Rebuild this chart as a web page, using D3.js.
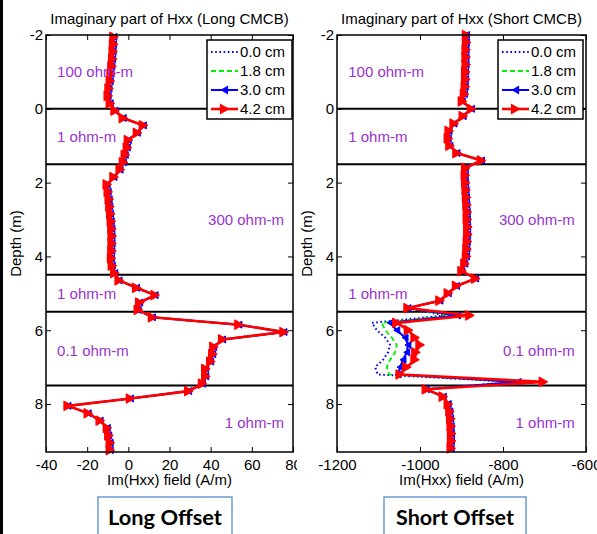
<!DOCTYPE html>
<html>
<head>
<meta charset="utf-8">
<script src="https://cdn.jsdelivr.net/npm/d3@7"></script>
<style>
  body { margin: 0; background: #fff; }
  svg { display: block; }
  text { font-family: Arial, "Liberation Sans", sans-serif; }
</style>
</head>
<body>
<svg id="chart" width="597" height="534"></svg>
<script>
// ---- data ---------------------------------------------------------------
const offsets = ["0.0 cm", "1.8 cm", "3.0 cm", "4.2 cm"];
const depthTicks = [-2, 0, 2, 4, 6, 8];
const longTicks = [-40, -20, 0, 20, 40, 60, 80];
const shortTicks = [-1200, -1000, -800, -600];
const layerTops = [0, 1.5, 4.5, 5.5, 7.5];

// Long CMCB: sample depths (m) and Im(Hxx) (A/m); the four offsets overlap
const depthLong = [-1.95,-1.75,-1.55,-1.35,-1.15,-0.95,-0.75,-0.55,-0.35,-0.15,
  0.05,0.25,0.45,0.65,0.85,1.05,1.25,1.45,1.65,1.85,
  2.05,2.25,2.45,2.65,2.85,3.05,3.25,3.45,3.65,3.85,
  4.05,4.25,4.45,4.65,4.85,5.05,5.25,5.45,5.65,5.85,
  6.05,6.25,6.45,6.65,6.85,7.05,7.25,7.45,7.65,7.85,
  8.05,8.25,8.45,8.65,8.85,9.05,9.25];
const imLong = [-7.0,-7.2,-7.4,-7.6,-8.0,-8.4,-8.8,-9.4,-9.8,-8.8,
  -6.5,-2.5,7.3,4.4,0.0,-0.5,-1.5,-2.4,-4.0,-7.0,
  -10.3,-9.8,-9.3,-9.0,-8.6,-8.3,-8.0,-7.9,-7.9,-8.0,
  -8.2,-7.8,-6.6,-4.5,4.0,13.0,5.5,4.8,11.7,53.7,
  75.6,45.8,41.5,41.0,40.0,37.6,37.6,36.0,29.3,1.0,
  -29.3,-19.5,-13.7,-10.2,-9.5,-8.8,-8.8];

// Short CMCB: sample depths (m) and Im(Hxx) (A/m) for each offset
const depthShort = [-2.0,-1.8,-1.6,-1.4,-1.2,-1.0,-0.8,-0.6,-0.4,-0.2,
  0.0,0.2,0.4,0.6,0.8,1.0,1.2,1.4,1.6,1.8,
  2.0,2.2,2.4,2.6,2.8,3.0,3.2,3.4,3.6,3.8,
  4.0,4.2,4.4,4.6,4.8,5.0,5.2,5.4,5.6,5.8,
  6.0,6.2,6.4,6.6,6.8,7.0,7.2,7.4,7.6,7.8,
  8.0,8.2,8.4,8.6,8.8,9.0,9.2];
const imShort00 = [-888,-888,-889,-889,-889,-890,-890,-891,-893,-898,
  -876,-896,-918,-930,-932,-928,-911,-852,-890,-891,
  -890,-889,-888,-887,-886,-886,-885,-885,-886,-887,
  -888,-892,-899,-866,-912,-932,-952,-1029,-940,-1116,
  -1104,-1084,-1072,-1077,-1089,-1108,-1102,-770,-985,-944,
  -932,-928,-926,-925,-924,-924,-925];
const imShort18 = [-888,-888,-889,-889,-889,-890,-890,-891,-893,-898,
  -876,-896,-918,-930,-932,-928,-911,-852,-890,-891,
  -890,-889,-888,-887,-886,-886,-885,-885,-886,-887,
  -888,-892,-899,-866,-912,-932,-952,-1029,-925,-1092,
  -1084,-1068,-1056,-1060,-1072,-1080,-1074,-762,-985,-944,
  -932,-928,-926,-925,-924,-924,-925];
const imShort30 = [-888,-888,-889,-889,-889,-890,-890,-891,-893,-898,
  -876,-896,-918,-930,-932,-928,-911,-852,-890,-891,
  -890,-889,-888,-887,-886,-886,-885,-885,-886,-887,
  -888,-892,-899,-866,-912,-932,-952,-1029,-910,-1072,
  -1056,-1036,-1029,-1032,-1041,-1048,-1053,-764,-985,-944,
  -932,-928,-926,-925,-924,-924,-925];
const imShort42 = [-888,-888,-889,-889,-889,-890,-890,-891,-893,-898,
  -876,-896,-918,-930,-932,-928,-911,-852,-890,-891,
  -890,-889,-888,-887,-886,-886,-885,-885,-886,-887,
  -888,-892,-899,-866,-912,-932,-952,-1029,-880,-1056,
  -1028,-1012,-1000,-1010,-1012,-1032,-1048,-703,-985,-944,
  -932,-928,-926,-925,-924,-924,-925];

// resistivity labels: text, x value, depth, anchor
const longLayerLabels = [
  ["100 ohm-m", -34.6, -1.0, "start"], ["1 ohm-m", -34.6, 0.75, "start"],
  ["300 ohm-m", 75.6, 3.0, "end"], ["1 ohm-m", -34.6, 5.02, "start"],
  ["0.1 ohm-m", -34.6, 6.55, "start"], ["1 ohm-m", 75.6, 8.5, "end"]];
const shortLayerLabels = [
  ["100 ohm-m", -1173, -1.0, "start"], ["1 ohm-m", -1173, 0.75, "start"],
  ["300 ohm-m", -627, 3.0, "end"], ["1 ohm-m", -1173, 5.02, "start"],
  ["0.1 ohm-m", -627, 6.55, "end"], ["1 ohm-m", -627, 8.5, "end"]];

// ---- styles -------------------------------------------------------------
const seriesStyle = [
  { color: "#0000ff", width: 2,   dash: "1.6,2.6", marker: null },
  { color: "#00ee00", width: 1.8, dash: "5,3",     marker: null },
  { color: "#0000ff", width: 2,   dash: null,      marker: "left" },
  { color: "#ff0000", width: 2.6, dash: null,      marker: "right" }
];

const svg = d3.select("#chart");
const FS = 15;
const yDomain = [-2, 9.3];
const plotTop = 35, plotBottom = 452;

// black strip on the far left edge
svg.append("rect").attr("x", 0).attr("y", 0).attr("width", 3).attr("height", 534).attr("fill", "#000");

function trianglePath(dir, w, h) {
  if (dir === "left") return `M${-w/2},0L${w/2},${-h/2}L${w/2},${h/2}Z`;
  return `M${w/2},0L${-w/2},${-h/2}L${-w/2},${h/2}Z`;
}

function drawPanel(cfg, idx) {
  const clipId = "clip" + idx;
  svg.append("clipPath").attr("id", clipId)
    .append("rect").attr("x", cfg.clip[0]).attr("y", 0)
    .attr("width", cfg.clip[1] - cfg.clip[0]).attr("height", 534);
  const g = svg.append("g").attr("clip-path", `url(#${clipId})`);

  const x = d3.scaleLinear().domain(cfg.xDomain).range([cfg.left, cfg.right]);
  const y = d3.scaleLinear().domain(yDomain).range([plotTop, plotBottom]);

  // title
  g.append("text").attr("x", (cfg.left + cfg.right) / 2).attr("y", 24)
    .attr("text-anchor", "middle").attr("font-size", FS).text(cfg.title);

  // layer boundaries
  g.selectAll(".layer").data(layerTops).join("line")
    .attr("x1", cfg.left).attr("x2", cfg.right)
    .attr("y1", d => y(d)).attr("y2", d => y(d))
    .attr("stroke", "#000").attr("stroke-width", 2);

  // curves
  const line = d3.line().x(d => x(d[1])).y(d => y(d[0]));
  cfg.series.forEach((vals, i) => {
    const st = seriesStyle[i];
    const pts = cfg.depth.map((dp, k) => [dp, vals[k]]);
    g.append("path").datum(pts).attr("d", line)
      .attr("fill", "none").attr("stroke", st.color)
      .attr("stroke-width", st.width).attr("stroke-linejoin", "round")
      .attr("stroke-dasharray", st.dash);
    if (st.marker) {
      const w = st.marker === "left" ? 6 : 8, h = st.marker === "left" ? 7 : 9;
      g.append("g").selectAll("path").data(pts).join("path")
        .attr("transform", d => `translate(${x(d[1])},${y(d[0])})`)
        .attr("d", trianglePath(st.marker, w, h))
        .attr("fill", st.color).attr("stroke", st.color)
        .attr("stroke-width", st.marker === "left" ? 1 : 1.4)
        .attr("stroke-linejoin", "round");
    }
  });

  // layer labels
  g.selectAll(".lbl").data(cfg.labels).join("text")
    .attr("x", d => x(d[1])).attr("y", d => y(d[2])).attr("dy", "0.35em")
    .attr("text-anchor", d => d[3]).attr("font-size", FS)
    .attr("fill", "#9933cc").text(d => d[0]);

  // frame
  g.append("rect").attr("x", cfg.left).attr("y", plotTop)
    .attr("width", cfg.right - cfg.left).attr("height", plotBottom - plotTop)
    .attr("fill", "none").attr("stroke", "#000").attr("stroke-width", 1.5);

  const fmt = d => String(d);
  const styleAxis = sel => {
    sel.select(".domain").remove();
    sel.selectAll("line").attr("stroke", "#000").attr("stroke-width", 1);
    sel.selectAll("text").attr("font-size", FS)
      .attr("font-family", "Arial, 'Liberation Sans', sans-serif").attr("fill", "#000");
  };
  g.append("g").attr("transform", `translate(${cfg.left},0)`)
    .call(d3.axisLeft(y).tickValues(depthTicks).tickSize(-5).tickPadding(3).tickFormat(fmt))
    .call(styleAxis);
  g.append("g").attr("transform", `translate(${cfg.right},0)`)
    .call(d3.axisRight(y).tickValues(depthTicks).tickSize(-5).tickFormat(""))
    .call(styleAxis);
  g.append("g").attr("transform", `translate(0,${plotBottom})`)
    .call(d3.axisBottom(x).tickValues(cfg.ticks).tickSize(-5).tickPadding(7).tickFormat(fmt))
    .call(styleAxis);
  g.append("g").attr("transform", `translate(0,${plotTop})`)
    .call(d3.axisTop(x).tickValues(cfg.ticks).tickSize(-5).tickFormat(""))
    .call(styleAxis);

  // axis titles
  g.append("text").attr("x", (cfg.left + cfg.right) / 2).attr("y", 485)
    .attr("text-anchor", "middle").attr("font-size", FS).text("Im(Hxx) field (A/m)");
  g.append("text")
    .attr("transform", `translate(${cfg.left - 25},${(plotTop + plotBottom) / 2}) rotate(-90)`)
    .attr("text-anchor", "middle").attr("font-size", FS).text("Depth (m)");

  // legend
  const lx = cfg.legendX, ly = 40, lw = 85, lh = 79;
  const lg = g.append("g");
  lg.append("rect").attr("x", lx).attr("y", ly).attr("width", lw).attr("height", lh)
    .attr("fill", "#fff").attr("stroke", "#000").attr("stroke-width", 1.5);
  offsets.forEach((name, i) => {
    const st = seriesStyle[i];
    const yy = ly + 12 + i * 19;
    lg.append("line").attr("x1", lx + 4).attr("x2", lx + 31)
      .attr("y1", yy).attr("y2", yy).attr("stroke", st.color)
      .attr("stroke-width", st.width).attr("stroke-dasharray", st.dash);
    if (st.marker) {
      const w = st.marker === "left" ? 6 : 8, h = st.marker === "left" ? 7 : 9;
      lg.append("path").attr("transform", `translate(${lx + 17.5},${yy})`)
        .attr("d", trianglePath(st.marker, w, h))
        .attr("fill", st.color).attr("stroke", st.color).attr("stroke-width", 1.2);
    }
    lg.append("text").attr("x", lx + 33).attr("y", yy).attr("dy", "0.35em")
      .attr("font-size", FS).text(name);
  });
}

drawPanel({
  title: "Imaginary part of Hxx (Long CMCB)",
  left: 46, right: 293, clip: [3, 297],
  xDomain: [-40, 80], ticks: longTicks,
  depth: depthLong, series: [imLong, imLong, imLong, imLong],
  labels: longLayerLabels, legendX: 207
}, 0);

drawPanel({
  title: "Imaginary part of Hxx (Short CMCB)",
  left: 337, right: 586, clip: [297, 597],
  xDomain: [-1200, -600], ticks: shortTicks,
  depth: depthShort, series: [imShort00, imShort18, imShort30, imShort42],
  labels: shortLayerLabels, legendX: 498
}, 1);

// caption boxes under each panel
const captions = [
  { text: "Long Offset", x0: 98, x1: 232, target: 114 },
  { text: "Short Offset", x0: 384, x1: 526, target: 118 }
];
captions.forEach(c => {
  svg.append("rect").attr("x", c.x0).attr("y", 497).attr("width", c.x1 - c.x0).attr("height", 50)
    .attr("fill", "#fff").attr("stroke", "#4f8fcf").attr("stroke-width", 1.3);
  const t = svg.append("text").attr("x", (c.x0 + c.x1) / 2).attr("y", 525)
    .attr("text-anchor", "middle").attr("font-weight", "bold")
    .style("font-family", "Lato, 'Open Sans', sans-serif")
    .attr("font-size", 22).text(c.text);
  const w = t.node().getComputedTextLength();
  if (w > 0) t.attr("font-size", 22 * c.target / w);
});
</script>
</body>
</html>
